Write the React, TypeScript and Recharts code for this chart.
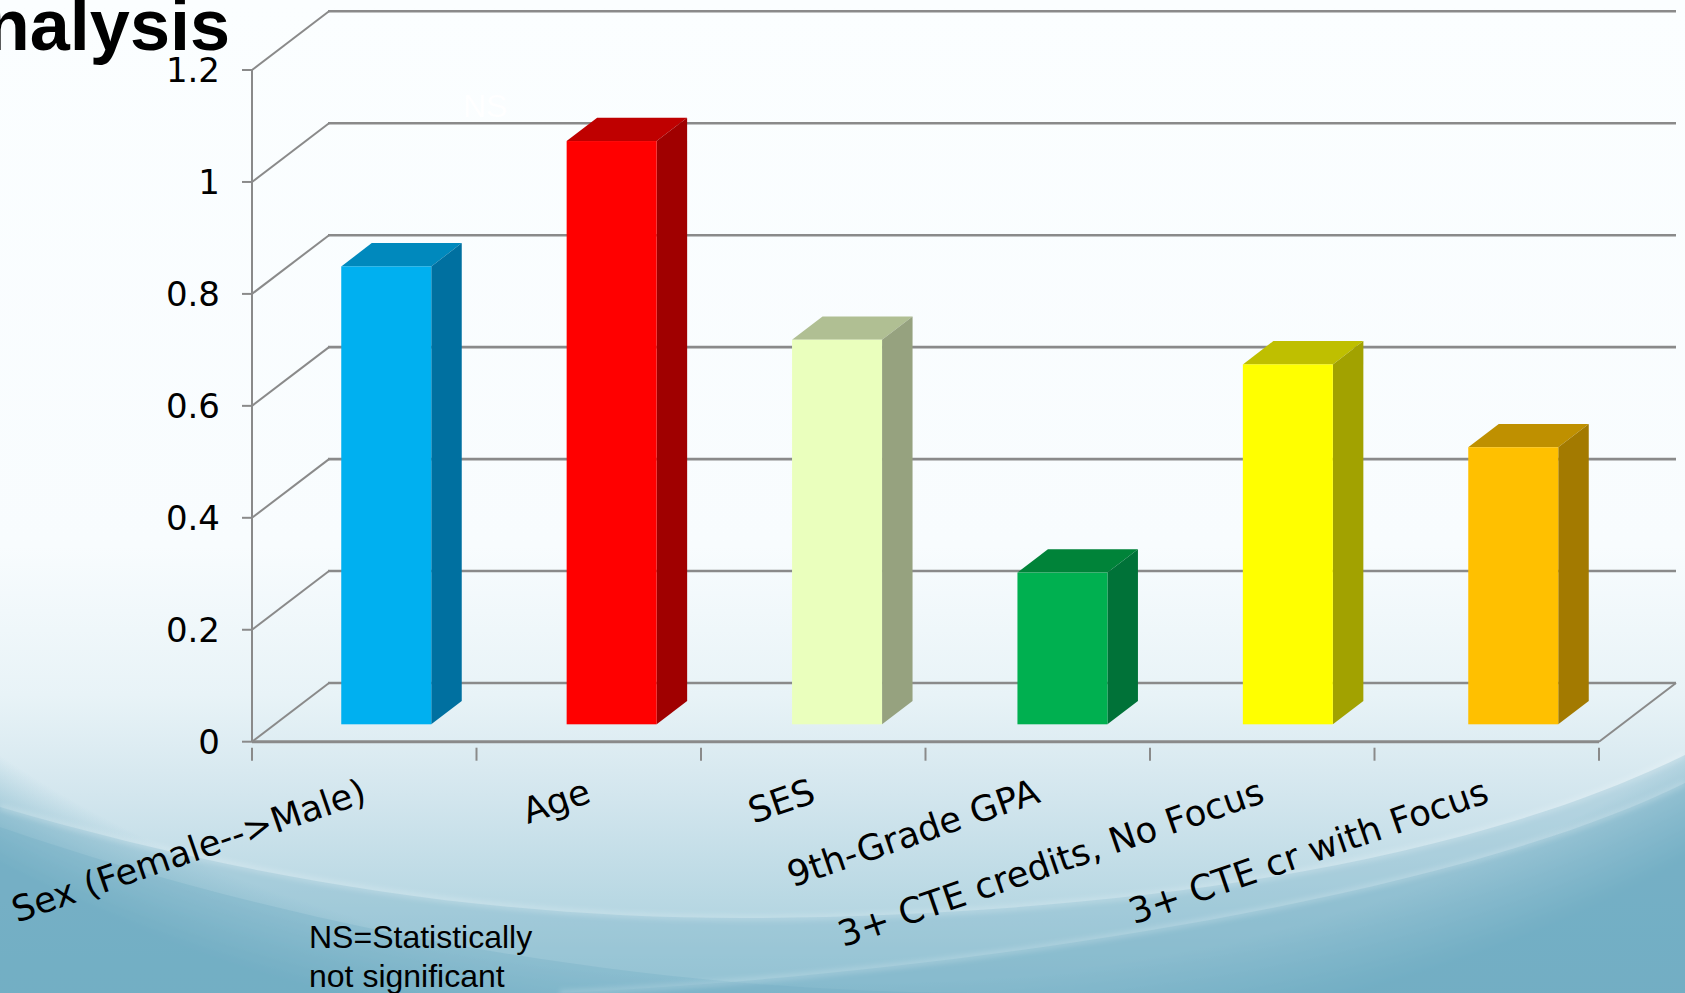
import { Bar, BarChart, CartesianGrid, XAxis, YAxis } from "recharts";

const categories = [
  "Sex (Female-->Male)",
  "Age",
  "SES",
  "9th-Grade GPA",
  "3+ CTE credits, No Focus",
  "3+ CTE cr with Focus",
];
const values = [0.818, 1.042, 0.687, 0.271, 0.643, 0.495];
const yTicks = [0, 0.2, 0.4, 0.6, 0.8, 1, 1.2];

const FRONT = ["#00B0F0", "#FF0000", "#EAFFBD", "#00B050", "#FFFF00", "#FFC000"];
const SIDE = ["#0070A0", "#A00000", "#96A27F", "#007238", "#A2A200", "#A37A00"];
const TOP = ["#0089BD", "#BF0000", "#B0BF93", "#008339", "#BFBF00", "#BF9000"];

const rows = categories.map((name, i) => ({ name, value: values[i] }));

const AXIS = "#8a8a8a";
const FONT = "DejaVu Sans";
// depth of the back wall, and of the bars standing on the floor
const WALL_DX = 77;
const WALL_DY = -58.7;
const BAR_DX = 30.5;
const BAR_DY = -23.3;
const BAR_SHIFT_X = 24.5;
const BAR_SHIFT_Y = -17.4;
// the bars fan out a little more than the axis ticks do
const BAR_SPREAD = 0.9;

function Bar3D(props: any) {
  const { width: w, height: h, index } = props;
  const x = props.x + BAR_SHIFT_X + (index - 2.5) * BAR_SPREAD;
  const y = props.y + BAR_SHIFT_Y;
  return (
    <g>
      <polygon
        points={`${x},${y} ${x + w},${y} ${x + w + BAR_DX},${y + BAR_DY} ${x + BAR_DX},${y + BAR_DY}`}
        fill={TOP[index]}
      />
      <polygon
        points={`${x + w},${y} ${x + w + BAR_DX},${y + BAR_DY} ${x + w + BAR_DX},${y + h + BAR_DY} ${x + w},${y + h}`}
        fill={SIDE[index]}
      />
      <rect x={x} y={y} width={w} height={h} fill={FRONT[index]} />
    </g>
  );
}

function WallLine(props: any) {
  const { x1, y1, x2, index } = props;
  const bx = x1 + WALL_DX;
  const by = y1 + WALL_DY;
  return (
    <g key={index}>
      <line x1={x1} y1={y1} x2={bx} y2={by} stroke={AXIS} strokeWidth={2} />
      <line x1={bx - 1} y1={by} x2={x2 + WALL_DX} y2={by} stroke={AXIS} strokeWidth={2.6} />
      {Math.abs(y1 - 741.7) < 1 && (
        <line x1={x2} y1={y1} x2={x2 + WALL_DX} y2={by} stroke={AXIS} strokeWidth={2} />
      )}
    </g>
  );
}

function CategoryTick(props: any) {
  const { x, y, payload, index } = props;
  const half = payload.offset;
  return (
    <g>
      {index === 0 && <line x1={x - half} y1={y} x2={x - half} y2={y + 13} stroke={AXIS} strokeWidth={2} />}
      <line x1={x + half} y1={y} x2={x + half} y2={y + 13} stroke={AXIS} strokeWidth={2} />
      <text
        x={x + 4}
        y={y + 54}
        textAnchor="end"
        transform={`rotate(-19 ${x + 4} ${y + 54})`}
        fontFamily={FONT}
        fontSize={35.5}
        fill="#000"
      >
        {payload.value}
      </text>
    </g>
  );
}

function Backdrop() {
  return (
    <svg width={1685} height={993} style={{ position: "absolute", left: 0, top: 0 }}>
      <defs>
        <linearGradient id="base" x1="0" y1="0" x2="0" y2="1">
          <stop offset="0" stopColor="#fbfeff" />
          <stop offset="0.55" stopColor="#f8fcfe" />
          <stop offset="0.7" stopColor="#e8f3f7" />
          <stop offset="0.8" stopColor="#d3e6ee" />
          <stop offset="1" stopColor="#a2ccda" />
        </linearGradient>
        <radialGradient
          id="edge"
          gradientUnits="userSpaceOnUse"
          cx="0"
          cy="0"
          r="1"
          gradientTransform="translate(840 300) scale(1250 760)"
        >
          <stop offset="0.9" stopColor="#6fadc2" stopOpacity="0" />
          <stop offset="1" stopColor="#6fadc2" stopOpacity="0.85" />
        </radialGradient>
        <filter id="soft" x="-5%" y="-20%" width="110%" height="140%">
          <feGaussianBlur stdDeviation="2.5" />
        </filter>
      </defs>
      <rect width={1685} height={993} fill="url(#base)" />
      <rect width={1685} height={993} fill="url(#edge)" />
      <path d="M0,827 C300,930 650,995 1000,993 L0,993 Z" fill="#6fadc2" opacity={0.3} />
      <path d="M0,807 C250,880 500,920 760,918 C1100,915 1450,870 1685,755 L1685,993 L0,993 Z" fill="#6fadc2" opacity={0.3} />
      <path d="M560,993 C950,975 1450,900 1685,783 L1685,993 Z" fill="#6fadc2" opacity={0.35} />
      <g filter="url(#soft)" fill="none" stroke="#fff">
        <path d="M0,807 C250,880 500,920 760,918 C1100,915 1450,870 1685,755" strokeOpacity={0.2} strokeWidth={6} />
        <path d="M560,993 C950,975 1450,900 1685,783" strokeOpacity={0.18} strokeWidth={6} />
      </g>
    </svg>
  );
}

function Notes() {
  const sans = "Liberation Sans";
  return (
    <svg width={1685} height={993} style={{ position: "absolute", left: 0, top: 0, pointerEvents: "none" }}>
      <text x={230} y={50} textAnchor="end" fontFamily={sans} fontWeight={700} fontSize={72} fill="#000">
        Analysis
      </text>
      <text x={463} y={117} fontFamily={sans} fontSize={32} fill="#fff">
        NS
      </text>
      <text x={309} y={948} fontFamily={sans} fontSize={32} fill="#000">
        NS=Statistically
      </text>
      <text x={309} y={987} fontFamily={sans} fontSize={32} fill="#000">
        not significant
      </text>
    </svg>
  );
}

export default function App() {
  return (
    <div style={{ position: "absolute", left: 0, top: 0, width: 1685, height: 993, overflow: "hidden" }}>
      <Backdrop />
      <div style={{ position: "absolute", left: 0, top: 0 }}>
        <BarChart
          width={1685}
          height={993}
          data={rows}
          margin={{ left: 142, right: 86, top: 70, bottom: 151.3 }}
        >
          <CartesianGrid vertical={false} horizontal={WallLine as any} />
          <XAxis
            dataKey="name"
            interval={0}
            height={100}
            axisLine={{ stroke: AXIS, strokeWidth: 3 }}
            tickLine={false}
            tickMargin={0}
            tick={CategoryTick as any}
          />
          <YAxis
            type="number"
            domain={[0, 1.2]}
            ticks={yTicks}
            interval={0}
            width={110}
            axisLine={{ stroke: AXIS, strokeWidth: 2 }}
            tickLine={{ stroke: AXIS, strokeWidth: 2 }}
            tickSize={10}
            tickMargin={22}
            tick={{ fill: "#000", fontSize: 34, fontFamily: FONT }}
          />
          <Bar dataKey="value" barSize={90} shape={Bar3D as any} isAnimationActive={false} />
        </BarChart>
      </div>
      <Notes />
    </div>
  );
}
